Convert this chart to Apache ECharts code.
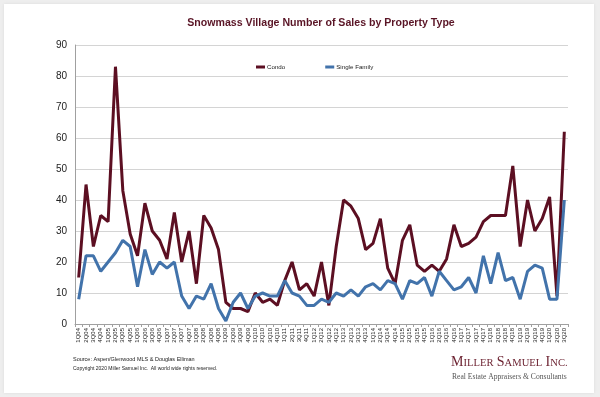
<!DOCTYPE html>
<html>
<head>
<meta charset="utf-8">
<script src="https://cdn.jsdelivr.net/npm/echarts@6/dist/echarts.min.js"></script>
<style>
html,body{margin:0;padding:0;background:#eeeeee;}
#chart{width:600px;height:397px;}
</style>
</head>
<body>
<div id="chart"></div>
<script>
const quarters = ["1Q04","2Q04","3Q04","4Q04","1Q05","2Q05","3Q05","4Q05","1Q06","2Q06","3Q06","4Q06",
"1Q07","2Q07","3Q07","4Q07","1Q08","2Q08","3Q08","4Q08","1Q09","2Q09","3Q09","4Q09",
"1Q10","2Q10","3Q10","4Q10","1Q11","2Q11","3Q11","4Q11","1Q12","2Q12","3Q12","4Q12",
"1Q13","2Q13","3Q13","4Q13","1Q14","2Q14","3Q14","4Q14","1Q15","2Q15","3Q15","4Q15",
"1Q16","2Q16","3Q16","4Q16","1Q17","2Q17","3Q17","4Q17","1Q18","2Q18","3Q18","4Q18",
"1Q19","2Q19","3Q19","4Q19","1Q20","2Q20","3Q20"];

const condo = [15,45,25,35,33,83,43,29,22,39,30,27,
21,36,20,30,13,35,31,24,7,5,5,4,
10,7,8,6,14,20,11,13,9,20,6,25,
40,38,34,24,26,34,18,13,27,32,19,17,
19,17,21,32,25,26,28,33,35,35,35,51,
25,40,30,34,41,9,62];

const singleFamily = [8,22,22,17,20,23,27,25,12,24,16,20,
18,20,9,5,9,8,13,5,1,7,10,5,
9,10,9,9,14,10,9,6,6,8,7,10,
9,11,9,12,13,11,14,13,8,14,13,15,
9,17,14,11,12,15,10,22,13,23,14,15,
8,17,19,18,8,8,40];

const yTicks = {min: 0, max: 90, interval: 10};

const chart = echarts.init(document.getElementById('chart'), null, {renderer: 'canvas'});
const font = 'Liberation Sans, Arial, sans-serif';
const serif = 'Liberation Serif, Times New Roman, serif';

chart.setOption({
  backgroundColor: '#eeeeee',
  animation: false,
  textStyle: {fontFamily: font},
  title: {
    text: 'Snowmass Village Number of Sales by Property Type',
    left: 316, textAlign: 'center',
    top: 13,
    textStyle: {fontFamily: font, fontSize: 10.6, fontWeight: 'bold', color: '#5a1526'}
  },
  legend: {
    top: 59,
    left: 251,
    itemGap: 40,
    itemWidth: 9,
    itemHeight: 3,
    icon: 'rect',
    textStyle: {fontFamily: font, fontSize: 6.2, color: '#222', padding: [0,0,0,-3]},
    data: ['Condo', 'Single Family']
  },
  grid: {left: 75, right: 32, top: 45, bottom: 73, containLabel: false},
  xAxis: {
    type: 'category',
    data: quarters,
    boundaryGap: true,
    axisLine: {lineStyle: {color: '#a0a0a0', width: 1}},
    axisTick: {show: true, length: 3, lineStyle: {color: '#a0a0a0'}},
    axisLabel: {interval: 0, rotate: 90, fontSize: 6, color: '#222', margin: 4, fontFamily: font}
  },
  yAxis: {
    type: 'value',
    min: yTicks.min, max: yTicks.max, interval: yTicks.interval,
    axisLine: {show: true, lineStyle: {color: '#a0a0a0', width: 1}},
    axisTick: {show: false},
    splitLine: {lineStyle: {color: '#d4d4d4', width: 1}},
    axisLabel: {fontSize: 10, color: '#222', margin: 8, fontFamily: font}
  },
  graphic: [
    {type: 'rect', z: -100, silent: true,
     shape: {x: 4, y: 4, width: 590, height: 389},
     style: {fill: '#ffffff', shadowBlur: 3, shadowColor: 'rgba(0,0,0,0.08)'}},
    {type: 'text', left: 73, top: 356,
     style: {text: 'Source: Aspen/Glenwood MLS & Douglas Elliman', font: '5.5px ' + font, fill: '#222'}},
    {type: 'text', left: 73, top: 366,
     style: {text: 'Copyright 2020 Miller Samuel Inc.  All world wide rights reserved.', font: '5px ' + font, fill: '#222'}},
    {type: 'text', left: 451, top: 355,
     style: {
       text: '{b|M}{s|ILLER} {b|S}{s|AMUEL} {b|I}{s|NC.}',
       rich: {
         b: {fontFamily: serif, fontSize: 14, fill: '#6a1f2e', verticalAlign: 'bottom', lineHeight: 15},
         s: {fontFamily: serif, fontSize: 10.6, fill: '#6a1f2e', verticalAlign: 'bottom', lineHeight: 15}
       }
     }},
    {type: 'text', left: 452, top: 373,
     style: {text: 'Real Estate Appraisers & Consultants', font: '7.6px ' + serif, fill: '#555'}}
  ],
  series: [
    {name: 'Condo', type: 'line', data: condo, symbol: 'none',
     lineStyle: {width: 3, color: '#5c0f22'}, itemStyle: {color: '#5c0f22'}},
    {name: 'Single Family', type: 'line', data: singleFamily, symbol: 'none',
     lineStyle: {width: 3, color: '#4273ab'}, itemStyle: {color: '#4273ab'}}
  ]
});
</script>
</body>
</html>
